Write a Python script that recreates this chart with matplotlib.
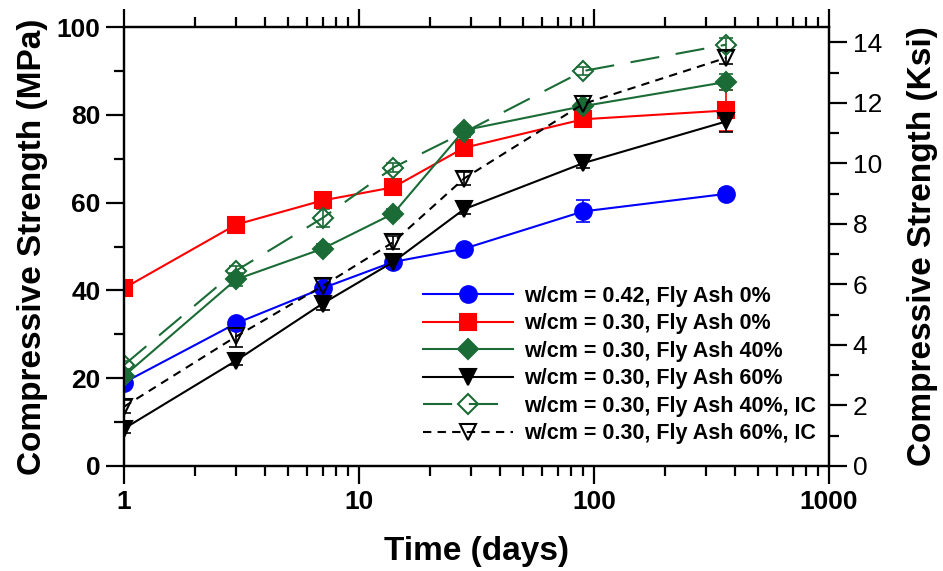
import numpy as np
import matplotlib
matplotlib.use("Agg")
import matplotlib.pyplot as plt
from matplotlib.ticker import MultipleLocator, LogLocator, NullFormatter

plt.rcParams['font.family'] = ['Liberation Sans', 'DejaVu Sans']

# --- DATA ---
days = [1, 3, 7, 14, 28, 90, 365]

labels = [
    "w/cm = 0.42, Fly Ash 0%",
    "w/cm = 0.30, Fly Ash 0%",
    "w/cm = 0.30, Fly Ash 40%",
    "w/cm = 0.30, Fly Ash 60%",
    "w/cm = 0.30, Fly Ash 40%, IC",
    "w/cm = 0.30, Fly Ash 60%, IC",
]

fa0_042 = [19.0, 32.5, 40.5, 46.5, 49.5, 58.0, 62.0]
fa0_030 = [40.5, 55.0, 60.5, 63.5, 72.5, 79.0, 81.0]
fa40_030 = [20.5, 42.5, 49.5, 57.5, 76.5, 82.0, 87.5]
fa60_030 = [8.5, 24.0, 37.0, 46.5, 58.5, 69.0, 78.5]
fa40_ic = [23.0, 44.5, 56.5, 68.0, 76.0, 90.0, 96.0]
fa60_ic = [13.5, 29.5, 41.0, 51.0, 65.5, 82.5, 93.0]

err_fa0_042 = [1.0, 1.0, 1.0, 1.5, 0.5, 2.5, 1.0]
err_fa0_030 = [1.0, 1.0, 1.0, 1.0, 1.0, 1.0, 4.7]
err_fa40_030 = [1.0, 1.5, 1.0, 1.0, 1.0, 1.0, 1.8]
err_fa60_030 = [1.0, 1.0, 1.5, 1.0, 1.0, 1.0, 2.5]
err_fa40_ic = [1.0, 1.0, 2.0, 1.0, 1.0, 1.0, 1.5]
err_fa60_ic = [1.5, 2.5, 1.5, 1.5, 1.5, 1.0, 1.5]

MPA_PER_KSI = 6.895

green = '#1b6b36'

fig = plt.figure(figsize=(9.43, 5.71), dpi=100)
ax = fig.add_axes([0.1315, 0.184, 0.7475, 0.7685])

series = [
    (fa0_042, err_fa0_042, 'blue', 'o', 'blue', '-'),
    (fa0_030, err_fa0_030, 'red', 's', 'red', '-'),
    (fa40_030, err_fa40_030, green, 'D', green, '-'),
    (fa60_030, err_fa60_030, 'black', 'v', 'black', '-'),
    (fa40_ic, err_fa40_ic, green, 'D', 'none', (0, (14, 8))),
    (fa60_ic, err_fa60_ic, 'black', 'v', 'none', (0, (4, 3))),
]

handles = []
for (vals, errs, color, marker, face, ls), label in zip(series, labels):
    ax.errorbar(days, vals, yerr=errs, fmt='none', ecolor=color,
                elinewidth=1.2, capsize=5, capthick=1.2, zorder=2)
    ms = 10 if marker == 'D' else 12
    h, = ax.plot(days, vals, color=color, linestyle=ls, lw=1.5,
                 marker=marker, markersize=ms, markerfacecolor=face,
                 markeredgecolor=color, markeredgewidth=1.5,
                 label=label, zorder=3)
    handles.append(h)

ax.set_xscale('log')
ax.set_xlim(1, 1000)
ax.set_ylim(0, 100)
ax.yaxis.set_major_locator(MultipleLocator(20))
ax.yaxis.set_minor_locator(MultipleLocator(10))
ax.xaxis.set_major_locator(LogLocator(base=10, numticks=10))
ax.xaxis.set_minor_locator(LogLocator(base=10, subs=np.arange(2, 10), numticks=20))
ax.xaxis.set_minor_formatter(NullFormatter())
ax.set_xticks([1, 10, 100, 1000])
ax.set_xticklabels(['1', '10', '100', '1000'])

for side in ax.spines.values():
    side.set_linewidth(1.6)

ax.tick_params(axis='both', which='major', direction='out', length=13, width=1.6,
               labelsize=19, top=True, pad=4)
ax.tick_params(axis='both', which='minor', direction='out', length=7, width=1.6,
               top=True)
for t in ax.get_xticklabels() + ax.get_yticklabels():
    t.set_fontweight('bold')

ax.set_xlabel("Time (days)", fontsize=24, fontweight='bold', labelpad=16)
ax.set_ylabel("Compressive Strength (MPa)", fontsize=24, fontweight='bold', labelpad=6)

# right axis in ksi
ax2 = ax.twinx()
ax2.set_ylim(0, 100 / MPA_PER_KSI)
ax2.yaxis.set_major_locator(MultipleLocator(2))
ax2.yaxis.set_minor_locator(MultipleLocator(1))
ax2.tick_params(axis='y', which='major', direction='out', length=13, width=1.6,
                labelsize=19, pad=4)
ax2.tick_params(axis='y', which='minor', direction='out', length=7, width=1.6)
for side in ax2.spines.values():
    side.set_linewidth(1.6)
ax2.set_ylabel("Compressive Strength (Ksi)", fontsize=24, fontweight='bold', labelpad=18)

leg = ax.legend(handles=handles, loc='lower right', frameon=False,
                prop={'size': 15.5, 'weight': 'bold'}, handlelength=4.2,
                handletextpad=0.5, labelspacing=0.3, borderaxespad=0.2,
                bbox_to_anchor=(1.0, 0.02))

fig.savefig("out.png", dpi=100)
